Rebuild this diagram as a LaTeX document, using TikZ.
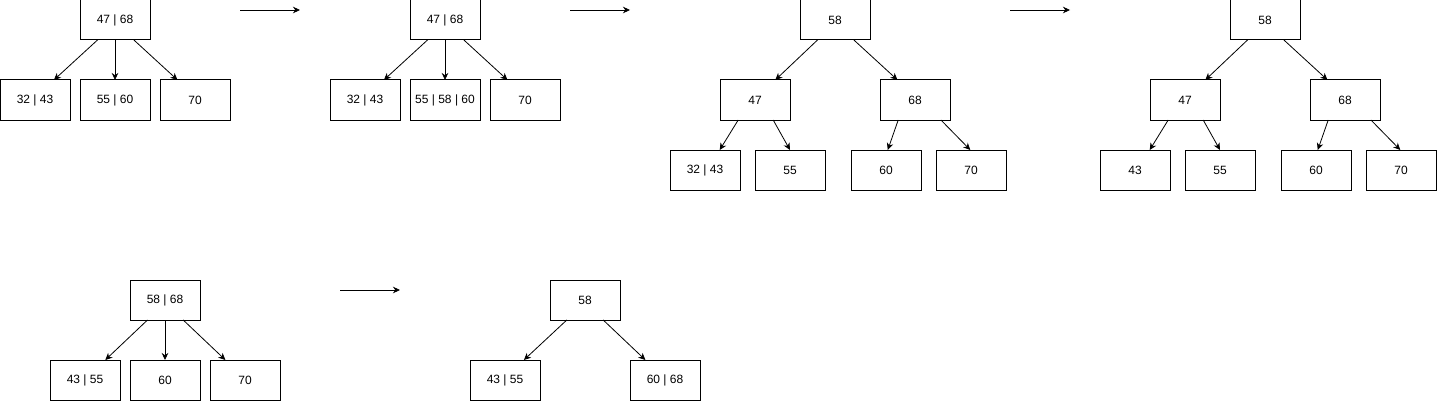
\documentclass[tikz,border=0pt]{standalone}
\usepackage{fontspec}
\setmainfont{Liberation Sans}
\usetikzlibrary{arrows.meta,calc}
\tikzset{
  box/.style={draw, line width=1pt, minimum width=70pt, minimum height=40pt, inner sep=0pt, outer sep=0pt, font=\fontsize{12}{14}\selectfont},
  arr/.style={line width=0.8pt, -{Stealth[length=7pt,width=6.5pt,inset=2.2pt]}},
}
\newcommand\myedge[4]{\draw[arr] ($(#1.south west)!#2!(#1.south east)$) -- ($(#3.north west)!#4!(#3.north east)$);}
\begin{document}
\begin{tikzpicture}[x=1pt,y=-1pt]
\useasboundingbox (0,0) rectangle (1438,404);
% tree 1
\node[box] (r1) at (115,20) {47 | 68};
\node[box] (a1) at (35,100) {32 | 43};
\node[box] (b1) at (115,100) {55 | 60};
\node[box] (c1) at (195,100) {70};
\myedge{r1}{0.25}{a1}{0.77}
\myedge{r1}{0.5}{b1}{0.5}
\myedge{r1}{0.77}{c1}{0.25}
% arrow 1
\coordinate (s1) at (240,10); \coordinate (e1) at (300,10);
\draw[arr] (s1) -- (e1);
% tree 2
\node[box] (r2) at (445,20) {47 | 68};
\node[box] (a2) at (365,100) {32 | 43};
\node[box] (b2) at (445,100) {55 | 58 | 60};
\node[box] (c2) at (525,100) {70};
\myedge{r2}{0.25}{a2}{0.77}
\myedge{r2}{0.5}{b2}{0.5}
\myedge{r2}{0.77}{c2}{0.25}
% arrow 2
\coordinate (s2) at (570,10); \coordinate (e2) at (630,10);
\draw[arr] (s2) -- (e2);
% tree 3
\node[box] (r3) at (835,20) {58};
\node[box] (l3) at (755,100) {47};
\node[box] (m3) at (915,100) {68};
\node[box] (p3) at (705,170) {32 | 43};
\node[box] (q3) at (790,170) {55};
\node[box] (s3) at (886,170) {60};
\node[box] (t3) at (971,170) {70};
\myedge{r3}{0.25}{l3}{0.79}
\myedge{r3}{0.77}{m3}{0.25}
\myedge{l3}{0.26}{p3}{0.71}
\myedge{l3}{0.76}{q3}{0.5}
\myedge{m3}{0.26}{s3}{0.525}
\myedge{m3}{0.87}{t3}{0.49}
% arrow 3
\coordinate (s3a) at (1010,10); \coordinate (e3a) at (1070,10);
\draw[arr] (s3a) -- (e3a);
% tree 4
\node[box] (r4) at (1265,20) {58};
\node[box] (l4) at (1185,100) {47};
\node[box] (m4) at (1345,100) {68};
\node[box] (p4) at (1135,170) {43};
\node[box] (q4) at (1220,170) {55};
\node[box] (s4) at (1316,170) {60};
\node[box] (t4) at (1401,170) {70};
\myedge{r4}{0.25}{l4}{0.79}
\myedge{r4}{0.77}{m4}{0.25}
\myedge{l4}{0.26}{p4}{0.71}
\myedge{l4}{0.76}{q4}{0.5}
\myedge{m4}{0.26}{s4}{0.525}
\myedge{m4}{0.87}{t4}{0.49}
% tree 5
\node[box] (r5) at (165,300) {58 | 68};
\node[box] (a5) at (85,380) {43 | 55};
\node[box] (b5) at (165,380) {60};
\node[box] (c5) at (245,380) {70};
\myedge{r5}{0.25}{a5}{0.79}
\myedge{r5}{0.5}{b5}{0.5}
\myedge{r5}{0.76}{c5}{0.22}
% arrow 5
\coordinate (s5) at (340,290); \coordinate (e5) at (400,290);
\draw[arr] (s5) -- (e5);
% tree 6
\node[box] (r6) at (585,300) {58};
\node[box] (a6) at (505,380) {43 | 55};
\node[box] (c6) at (665,380) {60 | 68};
\myedge{r6}{0.24}{a6}{0.77}
\myedge{r6}{0.76}{c6}{0.22}
\end{tikzpicture}
\end{document}
